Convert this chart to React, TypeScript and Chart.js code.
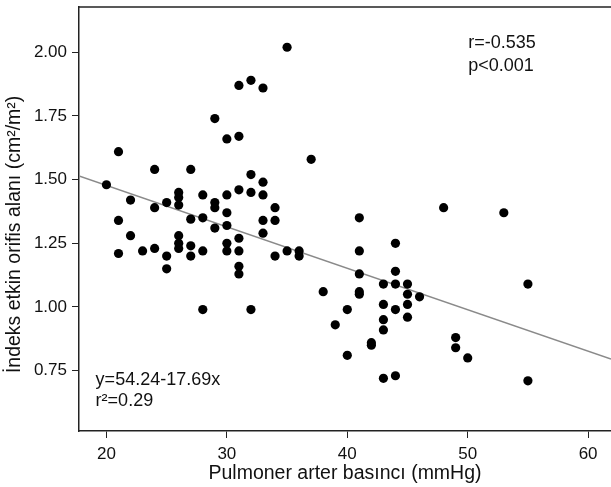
import React, { useEffect, useRef } from "react";
import { Chart, registerables } from "chart.js";

Chart.register(...registerables);

// Pulmoner arter basıncı (mmHg)
const pap: number[] = [
  20, 21, 21, 21, 22, 22, 23, 24, 24, 24, 25, 25, 25,
  26, 26, 26, 26, 26, 26, 27, 27, 27, 27, 28, 28, 28, 28,
  29, 29, 29, 29, 30, 30, 30, 30, 30, 30,
  31, 31, 31, 31, 31, 31, 31, 32, 32, 32, 32,
  33, 33, 33, 33, 33, 34, 34, 34, 35, 35, 36, 36, 37, 38, 39,
  40, 40, 41, 41, 41, 41, 41, 42, 42, 43, 43, 43, 43, 43,
  44, 44, 44, 44, 44, 45, 45, 45, 45, 46, 48, 49, 49, 50, 53, 55, 55,
];

// İndeks etkin orifis alanı (cm²/m²)
const eoa: number[] = [
  1.48, 1.61, 1.34, 1.21, 1.42, 1.28, 1.22, 1.54, 1.39, 1.23, 1.41, 1.2, 1.15,
  1.45, 1.43, 1.4, 1.28, 1.25, 1.23, 1.54, 1.345, 1.24, 1.2, 1.44, 1.35, 1.22, 0.99,
  1.74, 1.41, 1.39, 1.31, 1.66, 1.44, 1.37, 1.32, 1.25, 1.22,
  1.87, 1.67, 1.46, 1.27, 1.22, 1.16, 1.13, 1.89, 1.52, 1.45, 0.99,
  1.86, 1.49, 1.44, 1.34, 1.29, 1.39, 1.34, 1.2, 2.02, 1.22, 1.22, 1.2, 1.58, 1.06, 0.93,
  0.99, 0.81, 1.35, 1.22, 1.13, 1.06, 1.05, 0.86, 0.85, 1.09, 1.01, 0.95, 0.91, 0.72,
  1.25, 1.14, 1.09, 0.99, 0.73, 1.09, 1.05, 1.01, 0.96, 1.04, 1.39, 0.88, 0.84, 0.8, 1.37, 1.09, 0.71,
];

const xTicks: number[] = [20, 30, 40, 50, 60];
const yTicks: number[] = [0.75, 1.0, 1.25, 1.5, 1.75, 2.0];

const xMin = 17.72;
const xMax = 61.9;
const yMin = 0.513;
const yMax = 2.178;

// fitted line drawn on the chart
const fitIntercept = 1.8025;
const fitSlope = -0.01626;

const xTitle = "Pulmoner arter basıncı (mmHg)";
const yTitle = "İndeks etkin orifis alanı (cm²/m²)";
const statsLines: string[] = ["r=-0.535", "p<0.001"];
const eqLines: string[] = ["y=54.24-17.69x", "r²=0.29"];

const FONT = "'Liberation Sans', Arial, Helvetica, sans-serif";

export default function App() {
  const ref = useRef<HTMLCanvasElement | null>(null);

  useEffect(() => {
    document.body.style.margin = "0";
    const canvas = ref.current;
    if (!canvas) return;

    const points = pap.map((x, i) => ({ x, y: eoa[i] }));
    const fitLine = [xMin, xMax].map((x) => ({ x, y: fitIntercept + fitSlope * x }));

    const framePlugin = {
      id: "frameAndText",
      afterDraw(chart: any) {
        const { ctx, chartArea, scales } = chart;
        ctx.save();
        ctx.strokeStyle = "#222";
        ctx.lineWidth = 1.5;
        ctx.beginPath();
        ctx.moveTo(chartArea.left, chartArea.top);
        ctx.lineTo(chartArea.right + 2, chartArea.top);
        ctx.stroke();

        ctx.fillStyle = "#111";
        ctx.font = `18px ${FONT}`;
        ctx.textAlign = "left";
        ctx.textBaseline = "middle";
        const xs = scales.x;
        const ys = scales.y;
        // stats text, top right
        const sx = xs.getPixelForValue(50.05);
        const sy = ys.getPixelForValue(2.036);
        statsLines.forEach((t, i) => ctx.fillText(t, sx, sy + i * 23));
        // equation text, bottom left
        const ex = xs.getPixelForValue(19.1);
        const ey = ys.getPixelForValue(0.713);
        eqLines.forEach((t, i) => ctx.fillText(t, ex, ey + i * 21));

        // y axis title
        ctx.font = `19.5px ${FONT}`;
        ctx.textAlign = "center";
        ctx.translate(15, ys.getPixelForValue(1.285));
        ctx.rotate(-Math.PI / 2);
        ctx.fillText(yTitle, 0, 0);
        ctx.restore();
      },
    };

    const chart = new Chart(canvas, {
      type: "scatter",
      data: {
        datasets: [
          {
            type: "scatter",
            data: points,
            backgroundColor: "#000",
            borderColor: "#000",
            pointRadius: 4.6,
            pointHoverRadius: 4.6,
            borderWidth: 0,
            order: 0,
          },
          {
            type: "line",
            data: fitLine,
            borderColor: "#8a8a8a",
            borderWidth: 1.5,
            pointRadius: 0,
            fill: false,
            order: 1,
          } as any,
        ],
      },
      options: {
        animation: false,
        responsive: false,
        maintainAspectRatio: false,
        layout: { autoPadding: false, padding: { top: 7, right: 0, left: 0, bottom: 0 } },
        plugins: {
          legend: { display: false },
          tooltip: { enabled: false },
        },
        scales: {
          x: {
            type: "linear",
            min: xMin,
            max: xMax,
            afterBuildTicks: (scale: any) => {
              scale.ticks = xTicks.map((v) => ({ value: v }));
            },
            afterFit: (scale: any) => {
              scale.height = 56;
              scale.paddingLeft = 0;
              scale.paddingRight = 0;
            },
            grid: {
              display: true,
              drawOnChartArea: false,
              drawTicks: true,
              tickLength: 7,
              color: "#222",
              lineWidth: 1,
            },
            border: { display: true, color: "#222", width: 1.5 },
            ticks: {
              font: { family: FONT, size: 17 },
              color: "#111",
              padding: 6,
              maxRotation: 0,
              autoSkip: false,
              callback: (v: any) => String(v),
            },
            title: {
              display: true,
              text: xTitle,
              font: { family: FONT, size: 19.5 },
              color: "#111",
              padding: { top: 0, bottom: 2 },
            },
          },
          y: {
            type: "linear",
            min: yMin,
            max: yMax,
            afterBuildTicks: (scale: any) => {
              scale.ticks = yTicks.map((v) => ({ value: v }));
            },
            afterFit: (scale: any) => {
              scale.width = 79;
              scale.paddingTop = 0;
              scale.paddingBottom = 0;
            },
            grid: {
              display: true,
              drawOnChartArea: false,
              drawTicks: true,
              tickLength: 7,
              color: "#222",
              lineWidth: 1,
            },
            border: { display: true, color: "#222", width: 1.5 },
            ticks: {
              font: { family: FONT, size: 17 },
              color: "#111",
              padding: 5,
              autoSkip: false,
              callback: (v: any) => Number(v).toFixed(2),
            },
            title: { display: false },
          },
        },
      },
      plugins: [framePlugin],
    });

    return () => chart.destroy();
  }, []);

  return (
    <div style={{ width: 611, height: 487, background: "#fff" }}>
      <canvas ref={ref} width={611} height={487} style={{ display: "block" }} />
    </div>
  );
}
